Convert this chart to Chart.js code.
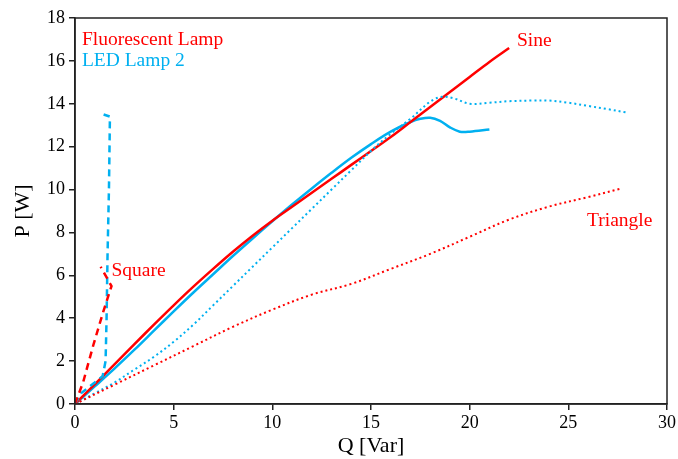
<!DOCTYPE html>
<html>
<head>
<meta charset="utf-8">
<script src="https://cdn.jsdelivr.net/npm/chart.js@4/dist/chart.umd.min.js"></script>
<style>
  html, body { margin: 0; padding: 0; background: #fff; }
  #wrap { width: 678px; height: 459px; }
</style>
</head>
<body>
<div id="wrap"><canvas id="chart"></canvas></div>
<script>
const RED = "#ff0000";
const CYAN = "#00b0f0";

// Fluorescent lamp
const fluoSineQ = [0, 1, 2, 3, 4, 5, 6, 7, 8, 9, 10, 11, 12, 13, 14, 15, 16, 17, 18, 19, 20, 21, 22];
const fluoSineP = [0, 0.92, 1.85, 2.78, 3.7, 4.6, 5.47, 6.3, 7.1, 7.85, 8.55, 9.2, 9.85, 10.5, 11.15, 11.8, 12.45, 13.15, 13.85, 14.55, 15.25, 15.95, 16.6];

const fluoSquareQ = [0, 0.42, 0.93, 1.43, 1.85, 1.3];
const fluoSquareP = [0, 1.04, 2.75, 4.3, 5.5, 6.4];

const fluoTriQ = [0, 2, 4, 6, 8, 10, 12, 14, 16, 18, 20, 22, 24, 26, 27.7];
const fluoTriP = [0, 0.9, 1.8, 2.7, 3.6, 4.4, 5.1, 5.6, 6.3, 7.0, 7.8, 8.6, 9.2, 9.65, 10.05];

// LED lamp 2
const ledSineQ = [0, 1, 2, 3, 4, 5, 6, 7, 8, 9, 10, 11, 12, 13, 14, 15, 16, 17, 17.5, 18, 18.5, 19, 19.5, 20, 21];
const ledSineP = [0, 0.82, 1.65, 2.52, 3.42, 4.32, 5.2, 6.05, 6.9, 7.72, 8.52, 9.3, 10.05, 10.78, 11.48, 12.12, 12.7, 13.15, 13.3, 13.35, 13.2, 12.9, 12.7, 12.7, 12.8];

const ledSquareQ = [0, 0.3, 1.0, 1.4, 1.55, 1.6, 1.65, 1.72, 1.77, 1.45];
const ledSquareP = [0, 0.5, 1.0, 1.3, 2.0, 4.0, 7.0, 10.0, 13.4, 13.5];

const ledTriQ = [0, 1, 2, 3, 4, 5, 6, 7, 8, 9, 10, 11, 12, 13, 14, 15, 16, 17, 18, 18.6, 19.2, 20, 21, 22, 23.2, 24, 25, 26, 27, 27.9];
const ledTriP = [0, 0.5, 1.0, 1.6, 2.2, 2.9, 3.7, 4.6, 5.5, 6.4, 7.3, 8.2, 9.1, 10.0, 10.9, 11.8, 12.6, 13.3, 14.1, 14.33, 14.25, 14.0, 14.05, 14.12, 14.15, 14.15, 14.05, 13.9, 13.75, 13.6];

const xTicks = [0, 5, 10, 15, 20, 25, 30];
const yTicks = [0, 2, 4, 6, 8, 10, 12, 14, 16, 18];

// text labels inside the plot, placed in data units
const notes = [
  { text: "Fluorescent Lamp", q: 0.35, p: 17.0, color: RED },
  { text: "LED Lamp 2", q: 0.35, p: 16.0, color: CYAN },
  { text: "Sine", q: 22.4, p: 16.95, color: RED },
  { text: "Triangle", q: 25.95, p: 8.55, color: RED },
  { text: "Square", q: 1.85, p: 6.2, color: RED }
];

function toPoints(xs, ys) {
  return xs.map((x, i) => ({ x: x, y: ys[i] }));
}

function line(data, color, dash, width, tension) {
  return {
    data: data,
    showLine: true,
    borderColor: color,
    backgroundColor: color,
    borderWidth: width,
    borderDash: dash,
    pointRadius: 0,
    tension: tension,
    fill: false
  };
}

const FONT = "'Liberation Serif', 'Times New Roman', serif";

const framePlugin = {
  id: "frame",
  afterDatasetsDraw(chart) {
    const { ctx, chartArea: a, scales } = chart;
    ctx.save();
    ctx.strokeStyle = "#222";
    ctx.lineWidth = 1.5;
    ctx.strokeRect(a.left, a.top, a.right - a.left, a.bottom - a.top);
    ctx.font = "19.5px " + FONT;
    ctx.textBaseline = "middle";
    ctx.textAlign = "left";
    notes.forEach(n => {
      ctx.fillStyle = n.color;
      ctx.fillText(n.text, scales.x.getPixelForValue(n.q), scales.y.getPixelForValue(n.p));
    });
    ctx.restore();
  }
};

new Chart(document.getElementById("chart"), {
  type: "scatter",
  data: {
    datasets: [
      line(toPoints(fluoTriQ, fluoTriP), RED, [2, 3], 2, 0.35),
      line(toPoints(ledTriQ, ledTriP), CYAN, [2, 3], 2, 0.35),
      line(toPoints(fluoSquareQ, fluoSquareP), RED, [7, 5], 2.5, 0),
      line(toPoints(ledSquareQ, ledSquareP), CYAN, [7, 5], 2.5, 0),
      line(toPoints(fluoSineQ, fluoSineP), RED, [], 2.5, 0.35),
      line(toPoints(ledSineQ, ledSineP), CYAN, [], 2.5, 0.35)
    ]
  },
  options: {
    responsive: true,
    maintainAspectRatio: false,
    animation: false,
    layout: { padding: { top: 18, right: 10, left: 0, bottom: 0 } },
    plugins: {
      legend: { display: false },
      tooltip: { enabled: false }
    },
    scales: {
      x: {
        type: "linear",
        min: 0,
        max: 30,
        afterBuildTicks: scale => { scale.ticks = xTicks.map(v => ({ value: v })); },
        afterFit: scale => { scale.height = 55; },
        border: { display: true, color: "#222", width: 1.5 },
        grid: { display: true, drawOnChartArea: false, drawTicks: true, tickLength: 6, color: "#222", lineWidth: 1.5 },
        ticks: { color: "#000", font: { family: FONT, size: 18 }, padding: 2, maxRotation: 0 },
        title: { display: true, text: "Q [Var]", color: "#000", font: { family: FONT, size: 22 }, padding: { top: 0, bottom: 0 } }
      },
      y: {
        type: "linear",
        min: 0,
        max: 18,
        afterBuildTicks: scale => { scale.ticks = yTicks.map(v => ({ value: v })); },
        afterFit: scale => { scale.width = 75; },
        border: { display: true, color: "#222", width: 1.5 },
        grid: { display: true, drawOnChartArea: false, drawTicks: true, tickLength: 6, color: "#222", lineWidth: 1.5 },
        ticks: { color: "#000", font: { family: FONT, size: 18 }, padding: 4 },
        title: { display: true, text: "P [W]", color: "#000", font: { family: FONT, size: 22 }, padding: { top: 10, bottom: 0 } }
      }
    }
  },
  plugins: [framePlugin]
});
</script>
</body>
</html>
